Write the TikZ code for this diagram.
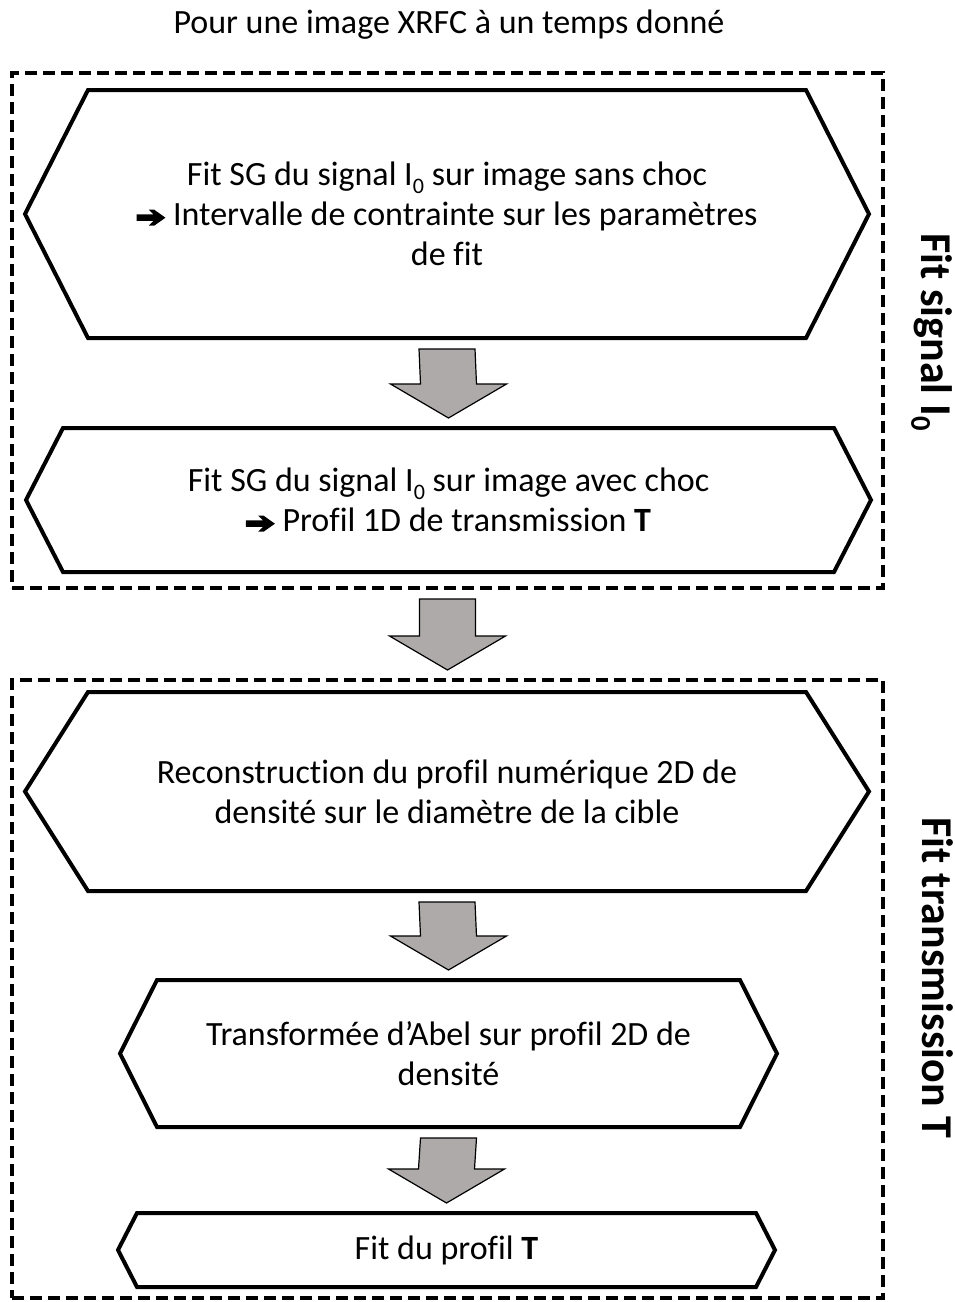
\documentclass[tikz,border=0pt]{standalone}
\usepackage{fontspec}
\setmainfont{Carlito}[Ligatures=NoCommon]
\usepackage{xcolor}
\usepackage{tikz}
\usetikzlibrary{calc,positioning}
\definecolor{arrgray}{HTML}{AEAAAA}
\tikzset{
  frame/.style={draw=black,line width=1.75pt,dash pattern=on 6pt off 3pt,inner sep=0pt,outer sep=0pt},
  hexa/.style={draw=black,line width=2pt,line join=miter},
  body/.style={align=center,inner sep=0pt,outer sep=0pt,font=\fontsize{17}{20}\selectfont},
  side/.style={rotate=-90,anchor=base,font=\bfseries\fontsize{22}{26}\selectfont},
  blk/.style={draw=black,line width=0.6pt,fill=arrgray}
}
% heavy arrow in front of a result line
\newcommand{\arr}{\tikz[x=1em,y=1em,baseline=0pt]{\fill[black] (0,0.14) -- (0.5,0.14) -- (0.36,0)
  -- (0.52,0) -- (0.85,0.235) -- (0.52,0.47) -- (0.36,0.47) -- (0.5,0.33) -- (0,0.33) -- cycle;}}
% subscript as printed (below the baseline)
\newcommand{\low}[1]{\raisebox{-0.22em}{\scalebox{0.65}{#1}}}
% hexagon around a body node, #2 = depth of the points
\newcommand{\drawhex}[2]{\draw[hexa] (#1.north west) -- (#1.north east) -- ($(#1.east)+(#2,0)$)
  -- (#1.south east) -- (#1.south west) -- ($(#1.west)+(-#2,0)$) -- cycle;}
% thick grey arrow from the bottom of #1 to the top of #2
\newcommand{\blockarrow}[2]{\draw[blk] ($(#1.south)+(-28,11)$) -- ($(#1.south)+(28,11)$)
  -- ($(#2.north)+(28,-44)$) -- ($(#2.north)+(58,-44)$) -- ($(#2.north)+(0,-10)$)
  -- ($(#2.north)+(-58,-44)$) -- ($(#2.north)+(-28,-44)$) -- cycle;}

\begin{document}
\begin{tikzpicture}[x=0.5pt,y=-0.5pt]
\useasboundingbox (0,0) rectangle (954,1302);

\node[anchor=base,font=\fontsize{17}{20}\selectfont] (title) at (449,33) {Pour une image XRFC à un temps donné};

% the two groups
\node[frame,minimum width=435.5pt,minimum height=257.5pt] (grpA) at (447.5,330.5) {};
\node[frame,minimum width=435.5pt,minimum height=309pt] (grpB) at (447.5,989) {};

\node[body,minimum width=359pt,minimum height=124pt] (sans) at (447,214)
  {Fit SG du signal I\low{0} sur image sans choc\\
   \arr{} Intervalle de contrainte sur les paramètres\\ de fit};
\node[body,minimum width=385.5pt,minimum height=72pt] (avec) at (448.5,500)
  {Fit SG du signal I\low{0} sur image avec choc\\
   \arr{} Profil 1D de transmission \textbf{T}};
\node[body,minimum width=359pt,minimum height=99.5pt] (recon) at (447,791.5)
  {Reconstruction du profil numérique 2D de\\ densité sur le diamètre de la cible};
\node[body,minimum width=291.5pt,minimum height=73.5pt] (abel) at (448.5,1053.5)
  {Transformée d’Abel sur profil 2D de\\ densité};
\node[body,minimum width=309.5pt,minimum height=37pt] (fitT) at (446.5,1250)
  {Fit du profil \textbf{T}};

\drawhex{sans}{63}
\drawhex{avec}{37}
\drawhex{recon}{63}
\drawhex{abel}{37}
\drawhex{fitT}{19}

\blockarrow{sans}{avec}
\blockarrow{grpA}{grpB}
\blockarrow{recon}{abel}
\blockarrow{abel}{fitT}

\node[side] (lblA) at (921,332) {Fit signal I\low{0}};
\node[side] (lblB) at (922,978) {Fit transmission T};
\end{tikzpicture}
\end{document}
